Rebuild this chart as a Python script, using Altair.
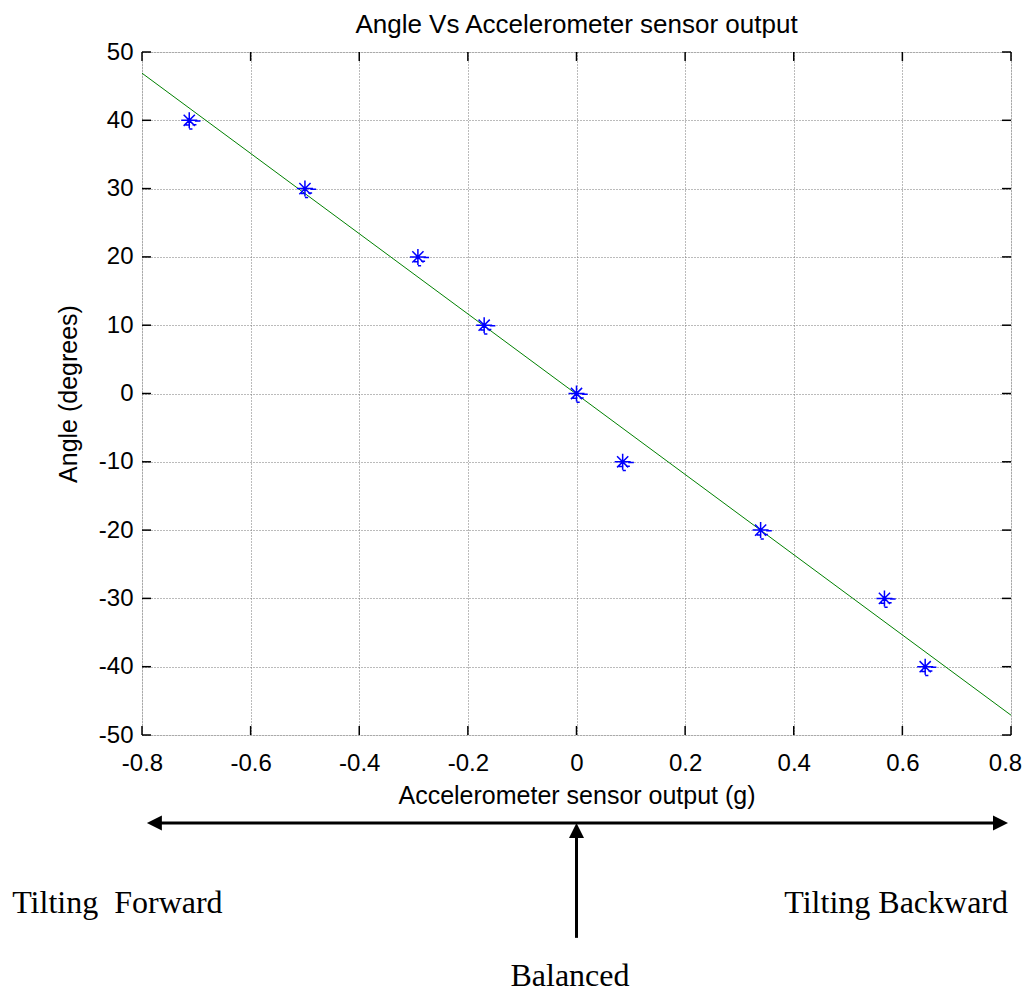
import altair as alt
import pandas as pd

# ---------------- data ----------------
accel_g = [-0.713, -0.500, -0.292, -0.170, 0.000, 0.085, 0.339, 0.567, 0.642]
angle_deg = [40, 30, 20, 10, 0, -10, -20, -30, -40]
fit_g = [-0.8, 0.8]
fit_deg = [46.9, -47.1]
x_tick_values = [-0.8, -0.6, -0.4, -0.2, 0, 0.2, 0.4, 0.6, 0.8]
y_tick_values = [-50, -40, -30, -20, -10, 0, 10, 20, 30, 40, 50]

title_text = "Angle Vs Accelerometer sensor output"
x_title = "Accelerometer sensor output (g)"
y_title = "Angle (degrees)"

# annotation anchors (data units of the chart scales)
arrow_y = -62.9
arrow_left, arrow_right = -0.791, 0.7945
balance_x = 0.0
balance_bottom = -79.7
label_texts = ["Tilting\u00a0 Forward", "Tilting Backward", "Balanced"]
label_x = [-1.039, 0.7945, -0.012]
label_y = [-76.1, -76.1, -86.8]
label_align = ["left", "right", "center"]

# ---------------- layout ----------------
W, H = 869, 683
TICK = 9
SANS = "Liberation Sans"
SERIF = "Liberation Serif"

xs = alt.Scale(domain=[-0.8, 0.8], nice=False, zero=False)
ys = alt.Scale(domain=[-50, 50], nice=False, zero=False)

x_axis = alt.Axis(values=x_tick_values, labelExpr="datum.value + ''", title=x_title,
                  grid=True, gridColor="#777777", gridDash=[1, 2], gridWidth=1,
                  ticks=False, tickSize=0, domain=False, labelPadding=16, titlePadding=8,
                  labelOffset={"condition": {"test": "datum.value >= 0.79", "value": -6}, "value": 0},
                  labelFont=SANS, labelFontSize=24, labelColor="black",
                  titleFont=SANS, titleFontSize=25, titleFontWeight="normal", titleColor="black",
                  labelFlush=False)
y_axis = alt.Axis(values=y_tick_values, labelExpr="datum.value + ''", title=y_title,
                  grid=True, gridColor="#777777", gridDash=[1, 2], gridWidth=1,
                  ticks=False, tickSize=0, domain=False, labelPadding=9, titlePadding=17,
                  labelFont=SANS, labelFontSize=24, labelColor="black",
                  titleFont=SANS, titleFontSize=25, titleFontWeight="normal", titleColor="black",
                  labelFlush=False)


def X(f):
    return alt.X(f, type="quantitative", scale=xs, axis=x_axis)


def Y(f):
    return alt.Y(f, type="quantitative", scale=ys, axis=y_axis)


pts = pd.DataFrame({"x": accel_g, "y": angle_deg})
fit = pd.DataFrame({"x": fit_g, "y": fit_deg})
xt = pd.DataFrame({"x": x_tick_values})
yt = pd.DataFrame({"y": y_tick_values})

fit_line = alt.Chart(fit).mark_line(color="#008000", strokeWidth=1).encode(x=X("x"), y=Y("y"))

star = ("M0,-1L0,1M-1,0L1,0M-0.7,-0.7L0.7,0.7M-0.7,0.7L0.7,-0.7"
        "M0.7,0.08L1.4,0.08M-0.4,0.35L-0.4,0.6L0.1,0.6M0.4,0.55L0.9,0.55M0,1.1L0.4,1.1")
points = alt.Chart(pts).mark_point(shape=star, size=256, filled=False, color="#0000ff",
                                   strokeWidth=1.5, opacity=1).encode(x=X("x"), y=Y("y"))

tick_b = alt.Chart(xt).mark_rule(color="black", strokeWidth=1.5).encode(
    x=X("x"), y=alt.value(H), y2=alt.value(H - TICK))
tick_t = alt.Chart(xt).mark_rule(color="black", strokeWidth=1.5).encode(
    x=X("x"), y=alt.value(0), y2=alt.value(TICK))
tick_l = alt.Chart(yt).mark_rule(color="black", strokeWidth=1.5).encode(
    y=Y("y"), x=alt.value(0), x2=alt.value(TICK))
tick_r = alt.Chart(yt).mark_rule(color="black", strokeWidth=1.5).encode(
    y=Y("y"), x=alt.value(W), x2=alt.value(W - TICK))

# arrows
hshaft = alt.Chart(pd.DataFrame({"x": [arrow_left + 0.015], "x2": [arrow_right - 0.015],
                                 "y": [arrow_y]})).mark_rule(color="black", strokeWidth=3).encode(
    x=X("x"), x2="x2:Q", y=Y("y"))
vshaft = alt.Chart(pd.DataFrame({"x": [balance_x], "y": [balance_bottom],
                                 "y2": [arrow_y - 2.0]})).mark_rule(color="black", strokeWidth=3).encode(
    x=X("x"), y=Y("y"), y2="y2:Q")
head_l = alt.Chart(pd.DataFrame({"x": [arrow_left], "y": [arrow_y]})).mark_point(
    shape="M0,0L2,-1L2,1Z", size=225, filled=True, color="black", opacity=1, strokeWidth=0).encode(
    x=X("x"), y=Y("y"))
head_r = alt.Chart(pd.DataFrame({"x": [arrow_right], "y": [arrow_y]})).mark_point(
    shape="M0,0L-2,-1L-2,1Z", size=225, filled=True, color="black", opacity=1, strokeWidth=0).encode(
    x=X("x"), y=Y("y"))
head_u = alt.Chart(pd.DataFrame({"x": [balance_x], "y": [arrow_y]})).mark_point(
    shape="M0,0L-1,2L1,2Z", size=225, filled=True, color="black", opacity=1, strokeWidth=0).encode(
    x=X("x"), y=Y("y"))

texts = []
for t, tx, ty, al in zip(label_texts, label_x, label_y, label_align):
    texts.append(alt.Chart(pd.DataFrame({"x": [tx], "y": [ty], "t": [t]})).mark_text(
        font=SERIF, fontSize=32, align=al, baseline="alphabetic", color="black").encode(
        x=X("x"), y=Y("y"), text="t:N"))

chart = alt.layer(fit_line, points, tick_b, tick_t, tick_l, tick_r,
                  hshaft, vshaft, head_l, head_r, head_u, *texts).properties(
    width=W, height=H,
    title=alt.TitleParams(title_text, font=SANS, fontSize=26, fontWeight="normal", color="black",
                          anchor="middle", offset=2),
    autosize=alt.AutoSizeParams(type="none"),
    padding={"left": 134, "top": 44, "right": 12, "bottom": 257},
).configure_view(stroke="black", strokeWidth=1.5).configure(background="white")

chart.save("out.html", embed_options={"renderer": "svg", "actions": False})
